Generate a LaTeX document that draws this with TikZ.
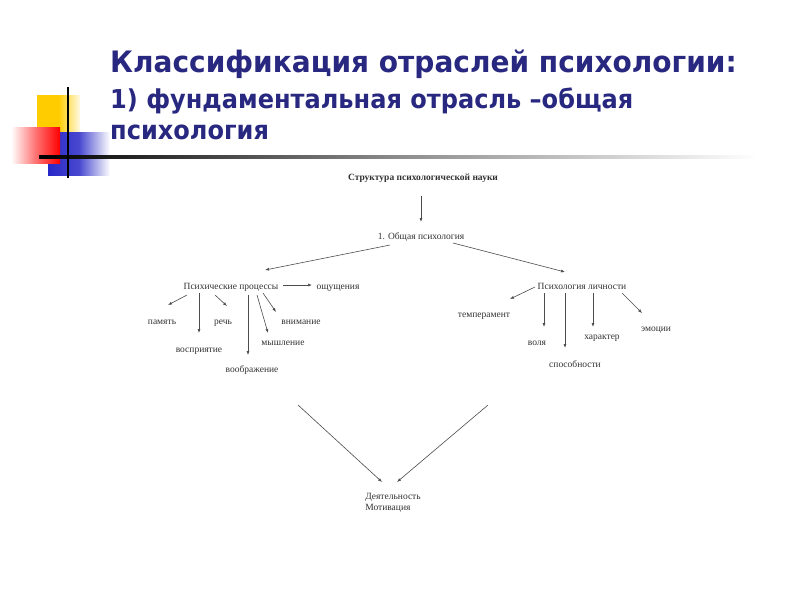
\documentclass[tikz,border=0pt]{standalone}
\usepackage{graphicx}
\usepackage{fontspec}
\setmainfont{Liberation Serif}
\newfontfamily\titlefont{DejaVu Sans}
\usetikzlibrary{arrows.meta}
\definecolor{titleblue}{RGB}{40,40,128}
\definecolor{sqyellow}{RGB}{255,204,0}
\definecolor{sqred}{RGB}{255,0,0}
\definecolor{sqblue}{RGB}{40,40,200}
\definecolor{diagtext}{RGB}{50,50,50}
\tikzset{
  ttl/.style={anchor=base west, inner sep=0pt, text=titleblue},
  lblbase/.style={inner sep=0pt, text=diagtext, font=\fontsize{9.5}{11}\selectfont},
  lbl/.style={lblbase, text height=4.4pt, text depth=0pt},
  arr/.style={-{Latex[length=4pt,width=3pt]}, draw=black!70, line width=0.6pt},
}
\begin{document}
\begin{tikzpicture}[x=1pt,y=-1pt]
\useasboundingbox (0,0) rectangle (800,600);
\fill[white] (0,0) rectangle (800,600);
% decoration
\shade[left color=sqyellow, right color=sqyellow!10, middle color=sqyellow] (37,95) rectangle (80,132);
\shade[left color=sqblue, right color=white, middle color=sqblue!85] (48,132) rectangle (110,175);
\shade[left color=white, right color=sqred, middle color=sqred!55] (11,127) rectangle (60,163);
\shade[left color=black, right color=white, middle color=black!45] (39,155.8) rectangle (758,158.6);
\draw[black, line width=1.3pt] (68,87) -- (68,178);
% title
\node[ttl, font={\titlefont\bfseries\fontsize{29.5}{32}\selectfont}] (t1) at (110,72) {\scalebox{0.95}[1]{Классификация отраслей психологии:}};
\node[ttl, font={\titlefont\bfseries\fontsize{26}{29}\selectfont}] (t2) at (110,108) {\scalebox{0.925}[1]{1) фундаментальная отрасль –общая}};
\node[ttl, font={\titlefont\bfseries\fontsize{26}{29}\selectfont}] (t3) at (110,139) {\scalebox{0.925}[1]{психология}};
% diagram nodes
\node[lbl, font=\bfseries\fontsize{9.5}{11}\selectfont] (root) at (423,178) {Структура психологической науки};
\node[lbl] (gen) at (421,237) {1. Общая психология};
\node[lbl] (pp) at (231,287) {Психические процессы};
\node[lbl] (pl) at (582,287) {Психология личности};
\node[lbl] (osh) at (338,287) {ощущения};
\node[lbl] (pam) at (162,322) {память};
\node[lbl] (vos) at (199,350) {восприятие};
\node[lbl] (rech) at (223,322) {речь};
\node[lbl] (voob) at (252,370) {воображение};
\node[lbl] (mysh) at (283,343) {мышление};
\node[lbl] (vnim) at (301,322) {внимание};
\node[lbl] (temp) at (484,315) {темперамент};
\node[lbl] (volya) at (537,343) {воля};
\node[lbl] (spos) at (575,365) {способности};
\node[lbl] (har) at (602,337) {характер};
\node[lbl] (emo) at (656,329) {эмоции};
\node[lblbase, align=left] (dey) at (393,503) {Деятельность\\Мотивация};
\coordinate (ca) at (298,405);
\coordinate (cb) at (488,405);
% connectors
\draw[arr] ([shift={(-2,18)}]root.center) -- ([shift={(0,-15)}]gen.center);
\draw[arr] ([shift={(-31,8)}]gen.center) -- ([shift={(34,-17)}]pp.center);
\draw[arr] ([shift={(32,6)}]gen.center) -- ([shift={(-17,-15)}]pl.center);
\draw[arr] ([shift={(52,-2)}]pp.center) -- ([shift={(-26,-2)}]osh.center);
\draw[arr] ([shift={(-44,8)}]pp.center) -- ([shift={(6,-17)}]pam.center);
\draw[arr] ([shift={(-32,6)}]pp.center) -- ([shift={(0,-17)}]vos.center);
\draw[arr] ([shift={(-16,8)}]pp.center) -- ([shift={(4,-16)}]rech.center);
\draw[arr] ([shift={(17,8)}]pp.center) -- ([shift={(-4,-15)}]voob.center);
\draw[arr] ([shift={(26,8)}]pp.center) -- ([shift={(-15,-10)}]mysh.center);
\draw[arr] ([shift={(32,6)}]pp.center) -- ([shift={(-25,-10)}]vnim.center);
\draw[arr] ([shift={(-47,0)}]pl.center) -- ([shift={(26,-16)}]temp.center);
\draw[arr] ([shift={(-38,6)}]pl.center) -- ([shift={(7,-16)}]volya.center);
\draw[arr] ([shift={(-17,6)}]pl.center) -- ([shift={(-10,-17)}]spos.center);
\draw[arr] ([shift={(11,6)}]pl.center) -- ([shift={(-9,-10)}]har.center);
\draw[arr] ([shift={(40,6)}]pl.center) -- ([shift={(-14,-16)}]emo.center);
\draw[arr] (ca) -- ([shift={(-11,-21)}]dey.center);
\draw[arr] (cb) -- ([shift={(4,-21)}]dey.center);
\end{tikzpicture}
\end{document}
